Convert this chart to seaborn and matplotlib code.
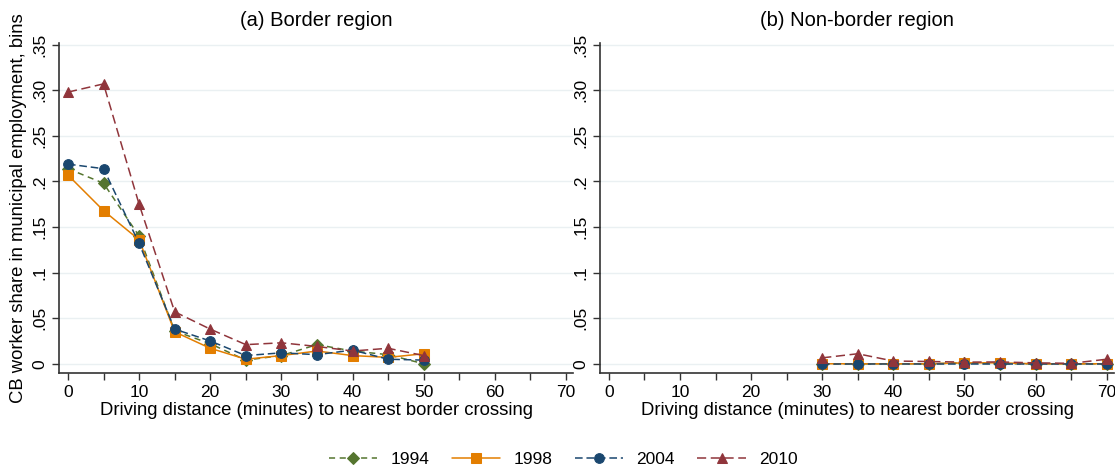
import numpy as np
import pandas as pd
import matplotlib.pyplot as plt
import seaborn as sns

years = ["1994", "1998", "2004", "2010"]

# border region: 0..50 minutes
x_border = [0, 5, 10, 15, 20, 25, 30, 35, 40, 45, 50]
border_1994 = [0.214, 0.198, 0.140, 0.036, 0.022, 0.004, 0.009, 0.021, 0.014, 0.010, 0.000]
border_1998 = [0.207, 0.168, 0.136, 0.035, 0.017, 0.005, 0.009, 0.014, 0.009, 0.007, 0.011]
border_2004 = [0.219, 0.214, 0.132, 0.038, 0.025, 0.009, 0.012, 0.010, 0.015, 0.005, 0.004]
border_2010 = [0.298, 0.307, 0.175, 0.057, 0.038, 0.021, 0.023, 0.019, 0.014, 0.017, 0.009]

# non-border region: 30..70 minutes
x_nonborder = [30, 35, 40, 45, 50, 55, 60, 65, 70]
nonborder_1994 = [0.000, 0.000, 0.000, 0.000, 0.001, 0.000, 0.000, 0.000, 0.000]
nonborder_1998 = [0.000, 0.000, 0.000, 0.000, 0.001, 0.001, 0.000, 0.000, 0.000]
nonborder_2004 = [0.000, 0.000, 0.000, 0.000, 0.000, 0.000, 0.000, 0.000, 0.000]
nonborder_2010 = [0.0065, 0.011, 0.003, 0.0025, 0.0018, 0.002, 0.001, 0.0005, 0.005]

ytick_labels = ["0", ".05", ".1", ".15", ".2", ".25", ".30", ".35"]

colors = {"1994": "#55752f", "1998": "#e37e00", "2004": "#1a476f", "2010": "#90353b"}
markers = {"1994": "D", "1998": "s", "2004": "o", "2010": "^"}
dashes = {"1994": (4, 3), "1998": (None, None), "2004": (5, 2.5), "2010": (6, 3)}


def make_df(x, series):
    rows = []
    for yr, vals in zip(years, series):
        for xi, v in zip(x, vals):
            rows.append({"dist": xi, "share": v, "year": yr})
    return pd.DataFrame(rows)


df_b = make_df(x_border, [border_1994, border_1998, border_2004, border_2010])
df_n = make_df(x_nonborder, [nonborder_1994, nonborder_1998, nonborder_2004, nonborder_2010])

sns.set_style("white", {"text.color": "black", "axes.labelcolor": "black",
                        "xtick.color": "black", "ytick.color": "black"})
plt.rcParams["font.family"] = ["Liberation Sans", "DejaVu Sans"]

fig, axes = plt.subplots(1, 2, figsize=(11.15, 4.66), dpi=100)

for ax, d, title in zip(axes, [df_b, df_n], ["(a) Border region", "(b) Non-border region"]):
    for yr in years:
        sub = d[d["year"] == yr]
        ls = "-" if yr == "1998" else (0, dashes[yr])
        sns.lineplot(data=sub, x="dist", y="share", ax=ax, color=colors[yr],
                     marker=markers[yr], markersize=7 if yr != "1994" else 6,
                     markeredgecolor=colors[yr], linewidth=1.1, linestyle=ls,
                     label=yr)
    ax.set_xlim(-1.2, 71)
    ax.set_ylim(-0.0099, 0.352)
    ax.set_xticks(range(0, 71, 10))
    ax.set_xticks(range(0, 71, 5), minor=True)
    ax.set_yticks(np.arange(0, 0.351, 0.05))
    ax.set_yticklabels(ytick_labels, rotation=90, va="center")
    ax.tick_params(axis="both", which="major", labelsize=12.5, length=5, width=1,
                   direction="out", left=True, bottom=True, color="#333333",
                   labelcolor="black")
    ax.tick_params(axis="x", which="minor", length=5, width=1, bottom=True,
                   color="#333333")
    ax.grid(axis="y", color="#eaf0f2", linewidth=1)
    ax.set_axisbelow(True)
    for s in ["top", "right"]:
        ax.spines[s].set_visible(False)
    for s in ["left", "bottom"]:
        ax.spines[s].set_color("#333333")
        ax.spines[s].set_linewidth(1.2)
    ax.set_title(title, fontsize=14.5, pad=12, color="black")
    ax.set_xlabel("Driving distance (minutes) to nearest border crossing", fontsize=13.3,
                  labelpad=2, color="black")
    ax.set_ylabel("")
    ax.get_legend().remove()

axes[0].set_ylabel("CB worker share in municipal employment, bins", fontsize=13.3,
                   color="black")

handles, labels = axes[0].get_legend_handles_labels()
fig.legend(handles, labels, loc="lower center", ncol=4, frameon=False,
           fontsize=12.5, handlelength=2.8, handletextpad=0.75, columnspacing=1.3,
           bbox_to_anchor=(0.505, -0.035), labelcolor="black")

plt.subplots_adjust(left=0.0533, right=0.999, top=0.908, bottom=0.2, wspace=0.053)
plt.savefig("out.png", dpi=100)
